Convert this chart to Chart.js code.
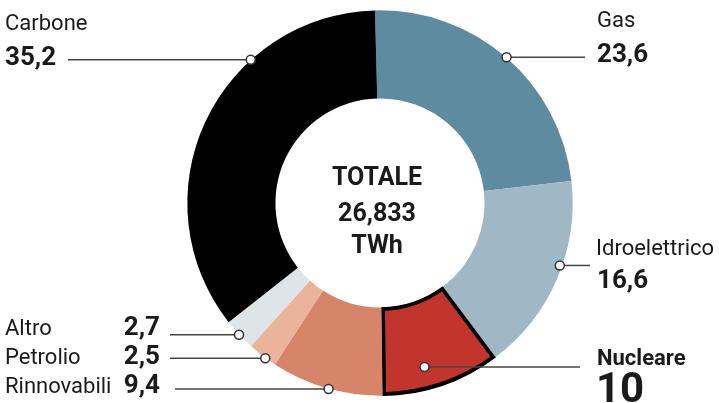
<!DOCTYPE html>
<html>
<head>
<meta charset="utf-8">
<script src="https://cdn.jsdelivr.net/npm/chart.js@4/dist/chart.umd.min.js"></script>
<style>
  body { margin: 0; background: #fff; }
  #wrap { width: 719px; height: 403px; }
</style>
</head>
<body>
<div id="wrap"><canvas id="grafica" width="719" height="403"></canvas></div>
<script>
// dati (percentuali), in senso orario partendo dall'alto
const fonti = ["Gas", "Idroelettrico", "Nucleare", "Rinnovabili", "Petrolio", "Altro", "Carbone"];
const quote = [23.6, 16.6, 10, 9.4, 2.5, 2.7, 35.2];
const colori = ["#5e8ba0", "#a0b8c5", "#c1352c", "#d6856a", "#eab49b", "#dee5e9", "#000000"];
const bordi = [0, 0, 3.5, 0, 0, 0, 0];

const totaleTitolo = "TOTALE";
const totaleValore = "26,833";
const totaleUnita = "TWh";

const testo = "#1a1a1a";
const linea = "#444";
const font = "Roboto";

// dove cade il pallino dentro ogni spicchio (frazione angolo, frazione raggio)
const etichette = [
  { frac: 0.5, rf: 1, tipo: "destraAlta" },
  { frac: 0.43, rf: 0.97, tipo: "destraMedia" },
  { frac: 0.6, rf: 0.74, tipo: "nucleare" },
  { frac: 0.48, rf: 1, tipo: "sinistraBassa", da: 175, base: 393 },
  { frac: 0.38, rf: 1, tipo: "sinistraBassa", da: 170, base: 364 },
  { frac: 0.5, rf: 1, tipo: "sinistraBassa", da: 170, base: 335 },
  { frac: 0.68, rf: 1, tipo: "sinistraAlta" }
];

function formatta(v) {
  return String(v).replace(".", ",");
}

function scrivi(ctx, t, x, y, size, bold, align) {
  ctx.font = (bold ? "bold " : "") + size + "px " + font;
  ctx.textAlign = align || "left";
  ctx.textBaseline = "alphabetic";
  ctx.fillStyle = testo;
  ctx.fillText(t, x, y);
}

const pluginEtichette = {
  id: "etichette",
  afterDraw(chart) {
    const ctx = chart.ctx;
    const meta = chart.getDatasetMeta(0);
    ctx.save();

    meta.data.forEach((arco, i) => {
      const p = arco.getProps(["x", "y", "startAngle", "endAngle", "innerRadius", "outerRadius"], true);
      const cfg = etichette[i];
      const ang = p.startAngle + (p.endAngle - p.startAngle) * cfg.frac;
      const r = p.innerRadius + (p.outerRadius - p.innerRadius) * cfg.rf;
      const px = p.x + Math.cos(ang) * r;
      const py = p.y + Math.sin(ang) * r;

      let x1, x2;
      if (cfg.tipo == "sinistraAlta") { x1 = 68; x2 = px; }
      else if (cfg.tipo == "sinistraBassa") { x1 = cfg.da; x2 = px; }
      else if (cfg.tipo == "destraAlta") { x1 = px; x2 = 585; }
      else if (cfg.tipo == "destraMedia") { x1 = px; x2 = 590; }
      else { x1 = px; x2 = 580; }

      ctx.strokeStyle = linea;
      ctx.lineWidth = 1.5;
      ctx.beginPath();
      ctx.moveTo(x1, py);
      ctx.lineTo(x2, py);
      ctx.stroke();

      ctx.beginPath();
      ctx.arc(px, py, 4.5, 0, Math.PI * 2);
      ctx.fillStyle = "#fff";
      ctx.fill();
      ctx.strokeStyle = "#333";
      ctx.stroke();

      const nome = fonti[i];
      const valore = formatta(quote[i]);
      if (cfg.tipo == "sinistraAlta") {
        scrivi(ctx, nome, 5, py - 30, 22, false);
        scrivi(ctx, valore, 5, py + 5, 26, true);
      } else if (cfg.tipo == "destraAlta") {
        scrivi(ctx, nome, 597, py - 30, 22, false);
        scrivi(ctx, valore, 597, py + 5, 26, true);
      } else if (cfg.tipo == "destraMedia") {
        scrivi(ctx, nome, 596, py - 10, 22, false);
        scrivi(ctx, valore, 597, py + 23, 26, true);
      } else if (cfg.tipo == "nucleare") {
        scrivi(ctx, nome, 597, py - 2, 22, true);
        scrivi(ctx, valore, 596, py + 35, 42, true);
      } else {
        scrivi(ctx, nome, 5, cfg.base, 22, false);
        scrivi(ctx, valore, 160, cfg.base, 26, true, "right");
      }
    });

    // testo centrale
    const c = meta.data[0];
    const cx = c.x - 3, cy = c.y;
    scrivi(ctx, totaleTitolo, cx, cy - 18, 25, true, "center");
    scrivi(ctx, totaleValore, cx, cy + 18, 25, true, "center");
    scrivi(ctx, totaleUnita, cx, cy + 50, 25, true, "center");

    ctx.restore();
  }
};

const data = {
  labels: fonti,
  datasets: [{
    data: quote,
    backgroundColor: colori,
    borderColor: "#000",
    borderWidth: bordi,
    borderAlign: "inner"
  }]
};

const config = {
  type: "doughnut",
  data: data,
  options: {
    responsive: false,
    animation: false,
    events: [],
    cutout: "54%",
    rotation: -1.5,
    layout: { padding: { left: 187, right: 146, top: 10, bottom: 7 } },
    plugins: {
      legend: { display: false },
      tooltip: { enabled: false }
    }
  },
  plugins: [pluginEtichette]
};

ChartPrincipale = new Chart(document.getElementById("grafica"), config);
</script>
</body>
</html>
